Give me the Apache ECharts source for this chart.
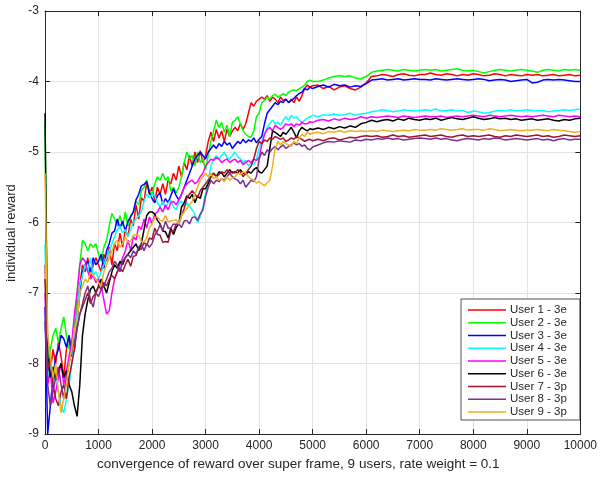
<!DOCTYPE html>
<html>
<head>
<meta charset="utf-8">
<script src="https://cdn.jsdelivr.net/npm/echarts@6/dist/echarts.min.js"></script>
<style>
html,body{margin:0;padding:0;background:#fff;}
#chart{width:600px;height:478px;}
</style>
</head>
<body>
<div id="chart"></div>
<script>
// sample positions: every 50 up to 5000, then every 100 up to 10000
const xs = [];
for (let x = 0; x <= 5000; x += 50) xs.push(x);
for (let x = 5100; x <= 10000; x += 100) xs.push(x);

const xTicks = [0,1000,2000,3000,4000,5000,6000,7000,8000,9000,10000];
const yTicks = [-9,-8,-7,-6,-5,-4,-3];

const seriesNames = ['User 1 - 3e','User 2 - 3e','User 3 - 3e','User 4 - 3e','User 5 - 3e','User 6 - 3e','User 7 - 3p','User 8 - 3p','User 9 - 3p'];
const seriesColors = ['#ff0000','#00ff00','#0000ff','#00ffff','#ff00ff','#000000','#a2142f','#7e2f8e','#edb120'];

const user1 = [-6.6,
-7.9,-8.1,-7.8,-8.0,-7.7,-7.9,-8.2,-7.8,-7.6,-7.9,
-7.5,-7.2,-6.9,-6.6,-6.7,-6.5,-6.8,-6.6,-6.5,-6.6,
-6.7,-6.45,-6.55,-6.35,-6.6,-6.3,-6.4,-6.15,-6.35,-6.1,
-6.2,-5.95,-6.05,-5.75,-5.95,-5.65,-5.7,-5.43,-5.6,-5.5,
-5.7,-5.5,-5.6,-5.45,-5.6,-5.4,-5.45,-5.3,-5.4,-5.2,
-5.35,-5.15,-5.25,-5.05,-5.2,-5.0,-5.15,-4.98,-5.15,-5.05,
-4.85,-4.72,-4.85,-4.68,-4.8,-4.7,-4.85,-4.68,-4.78,-4.7,
-4.65,-4.7,-4.6,-4.68,-4.6,-4.45,-4.3,-4.35,-4.28,-4.25,
-4.22,-4.25,-4.2,-4.28,-4.22,-4.25,-4.3,-4.22,-4.27,-4.25,
-4.3,-4.25,-4.3,-4.22,-4.28,-4.2,-4.1,-4.05,-4.08,-4.06,
-4.05,-4.1,-4.07,-4.12,-4.08,-4.06,-4.1,-4.12,-4.08,-4.02,
-3.93,-3.92,-3.9,-3.91,-3.93,-3.9,-3.89,-3.91,-3.92,-3.9,
-3.9,-3.88,-3.9,-3.91,-3.89,-3.9,-3.92,-3.9,-3.91,-3.89,
-3.9,-3.92,-3.91,-3.89,-3.9,-3.92,-3.9,-3.91,-3.92,-3.9,
-3.91,-3.9,-3.92,-3.91,-3.9,-3.92,-3.91,-3.9,-3.92,-3.91];

const user2 = [-4.6,
-8.0,-7.8,-7.6,-7.5,-7.7,-7.5,-7.34,-7.6,-7.8,-7.7,
-7.5,-7.0,-6.6,-6.25,-6.3,-6.4,-6.3,-6.35,-6.3,-6.45,
-6.55,-6.35,-6.25,-6.05,-5.87,-5.95,-6.05,-5.9,-6.05,-5.85,
-6.05,-5.9,-5.85,-5.7,-5.75,-5.55,-5.5,-5.4,-5.55,-5.6,
-5.45,-5.35,-5.4,-5.3,-5.4,-5.35,-5.55,-5.5,-5.58,-5.5,
-5.35,-5.15,-5.0,-5.1,-5.05,-5.2,-5.0,-5.15,-5.1,-5.25,
-5.05,-4.85,-4.7,-4.55,-4.65,-4.58,-4.72,-4.62,-4.78,-4.58,
-4.55,-4.5,-4.6,-4.7,-4.75,-4.78,-4.79,-4.7,-4.5,-4.45,
-4.3,-4.27,-4.22,-4.25,-4.2,-4.18,-4.22,-4.2,-4.17,-4.2,
-4.15,-4.13,-4.12,-4.13,-4.1,-4.08,-4.05,-4.0,-3.98,-4.0,
-4.0,-3.98,-3.95,-3.93,-3.92,-3.93,-3.92,-3.95,-3.96,-3.93,
-3.87,-3.85,-3.84,-3.83,-3.84,-3.85,-3.83,-3.84,-3.85,-3.84,
-3.83,-3.84,-3.83,-3.85,-3.84,-3.83,-3.82,-3.84,-3.85,-3.84,
-3.86,-3.88,-3.86,-3.84,-3.83,-3.84,-3.85,-3.84,-3.83,-3.84,
-3.85,-3.87,-3.84,-3.83,-3.84,-3.85,-3.83,-3.84,-3.83,-3.84];

const user3 = [-7.2,
-9.0,-8.6,-8.2,-7.9,-7.8,-7.6,-7.65,-7.77,-7.6,-7.9,
-7.8,-7.4,-7.0,-6.7,-6.6,-6.55,-6.7,-6.5,-6.6,-6.55,
-6.45,-6.65,-6.4,-6.3,-6.15,-6.12,-5.95,-6.08,-5.98,-6.12,
-5.98,-5.92,-5.85,-5.68,-5.6,-5.48,-5.46,-5.42,-5.58,-5.66,
-5.72,-5.62,-5.58,-5.74,-5.66,-5.72,-5.62,-5.52,-5.62,-5.68,
-5.6,-5.5,-5.4,-5.3,-5.2,-5.1,-5.05,-5.0,-5.05,-5.1,
-5.0,-4.95,-4.9,-4.95,-4.88,-4.92,-4.85,-4.9,-4.87,-4.95,
-4.9,-4.85,-4.88,-4.82,-4.87,-4.83,-4.85,-4.8,-4.87,-4.82,
-4.78,-4.6,-4.45,-4.4,-4.35,-4.3,-4.33,-4.28,-4.3,-4.25,
-4.3,-4.27,-4.24,-4.2,-4.17,-4.15,-4.1,-4.12,-4.08,-4.1,
-4.07,-4.05,-4.08,-4.04,-4.06,-4.05,-4.08,-4.06,-4.07,-4.03,
-3.98,-3.97,-3.96,-3.98,-3.97,-3.96,-3.98,-3.97,-3.96,-3.97,
-3.97,-3.98,-3.96,-3.97,-3.98,-3.97,-3.96,-3.97,-3.98,-3.97,
-3.96,-3.97,-3.99,-3.98,-3.97,-3.98,-4.0,-3.99,-3.98,-3.97,
-4.02,-4.01,-3.98,-3.97,-3.98,-3.97,-3.98,-3.99,-4.0,-4.0];

const user4 = [-6.3,
-8.2,-8.0,-8.3,-8.1,-8.4,-8.6,-8.7,-8.5,-8.3,-8.0,
-7.7,-7.3,-6.9,-6.75,-6.6,-6.7,-6.5,-6.75,-6.7,-6.8,
-6.7,-6.6,-6.5,-6.4,-6.3,-6.2,-6.1,-6.05,-6.15,-6.1,
-6.2,-6.1,-6.0,-5.95,-5.9,-5.85,-5.7,-5.6,-5.65,-5.6,
-5.62,-5.72,-5.78,-5.7,-5.8,-5.72,-5.68,-5.78,-5.82,-5.72,
-5.7,-5.78,-5.72,-5.77,-5.82,-5.88,-6.0,-5.92,-5.78,-5.58,
-5.4,-5.2,-5.1,-5.05,-5.1,-5.05,-5.0,-5.08,-5.1,-5.05,
-5.0,-5.07,-5.1,-5.15,-5.12,-5.2,-5.15,-5.18,-5.1,-4.95,
-4.85,-4.75,-4.65,-4.6,-4.55,-4.6,-4.58,-4.62,-4.55,-4.5,
-4.55,-4.48,-4.52,-4.5,-4.55,-4.58,-4.55,-4.52,-4.5,-4.48,
-4.5,-4.47,-4.48,-4.46,-4.48,-4.47,-4.45,-4.48,-4.46,-4.45,
-4.43,-4.42,-4.4,-4.41,-4.43,-4.42,-4.4,-4.41,-4.42,-4.41,
-4.4,-4.41,-4.39,-4.42,-4.41,-4.4,-4.42,-4.41,-4.44,-4.42,
-4.43,-4.45,-4.44,-4.42,-4.41,-4.42,-4.4,-4.42,-4.41,-4.4,
-4.41,-4.42,-4.41,-4.43,-4.42,-4.41,-4.4,-4.41,-4.4,-4.39];

const user5 = [-7.0,
-8.3,-8.1,-8.56,-8.4,-8.2,-8.0,-8.3,-8.1,-7.9,-7.7,
-7.3,-7.0,-6.6,-6.5,-6.55,-6.7,-6.8,-6.75,-6.85,-6.8,
-6.9,-7.1,-7.3,-7.25,-7.0,-6.8,-6.7,-6.6,-6.5,-6.4,
-6.25,-6.4,-6.2,-6.25,-6.05,-6.1,-5.95,-6.08,-5.92,-6.02,
-5.88,-5.85,-5.78,-5.85,-5.75,-5.82,-5.72,-5.7,-5.75,-5.68,
-5.6,-5.5,-5.45,-5.42,-5.4,-5.45,-5.42,-5.35,-5.3,-5.2,
-5.15,-5.1,-5.12,-5.08,-5.1,-5.15,-5.12,-5.1,-5.15,-5.12,
-5.1,-5.15,-5.12,-5.18,-5.15,-5.12,-5.15,-5.1,-5.12,-5.08,
-4.9,-4.75,-4.68,-4.65,-4.7,-4.62,-4.65,-4.68,-4.65,-4.6,
-4.62,-4.6,-4.64,-4.6,-4.62,-4.58,-4.6,-4.6,-4.57,-4.58,
-4.55,-4.54,-4.56,-4.53,-4.55,-4.52,-4.54,-4.53,-4.5,-4.52,
-4.5,-4.51,-4.5,-4.49,-4.5,-4.51,-4.49,-4.5,-4.51,-4.5,
-4.49,-4.5,-4.5,-4.49,-4.51,-4.5,-4.49,-4.5,-4.49,-4.48,
-4.49,-4.5,-4.48,-4.49,-4.5,-4.49,-4.48,-4.49,-4.5,-4.49,
-4.5,-4.49,-4.48,-4.49,-4.5,-4.48,-4.49,-4.5,-4.49,-4.5];

const user6 = [-4.45,
-7.9,-8.2,-8.05,-8.24,-8.1,-8.0,-8.2,-8.1,-8.3,-8.4,
-8.6,-8.75,-8.3,-7.6,-7.3,-7.1,-6.95,-6.9,-7.0,-6.9,
-6.8,-6.9,-7.0,-6.85,-6.7,-6.6,-6.65,-6.55,-6.6,-6.5,
-6.45,-6.4,-6.35,-6.3,-6.4,-6.3,-6.1,-5.9,-5.85,-5.85,
-5.88,-5.97,-6.02,-6.12,-6.13,-6.22,-6.08,-6.17,-6.07,-6.02,
-5.78,-5.72,-5.62,-5.66,-5.6,-5.72,-5.62,-5.66,-5.52,-5.52,
-5.45,-5.35,-5.3,-5.35,-5.28,-5.3,-5.35,-5.3,-5.25,-5.3,
-5.28,-5.3,-5.25,-5.3,-5.32,-5.28,-5.3,-5.25,-5.22,-5.28,
-5.3,-5.25,-5.2,-4.95,-4.7,-4.72,-4.75,-4.78,-4.72,-4.75,
-4.7,-4.65,-4.72,-4.8,-4.7,-4.65,-4.68,-4.7,-4.67,-4.68,
-4.66,-4.68,-4.65,-4.67,-4.64,-4.66,-4.63,-4.65,-4.6,-4.58,
-4.55,-4.57,-4.55,-4.54,-4.56,-4.53,-4.55,-4.52,-4.54,-4.55,
-4.53,-4.54,-4.52,-4.55,-4.53,-4.51,-4.53,-4.54,-4.52,-4.5,
-4.52,-4.54,-4.53,-4.51,-4.53,-4.52,-4.54,-4.53,-4.55,-4.54,
-4.53,-4.55,-4.54,-4.53,-4.55,-4.56,-4.54,-4.55,-4.53,-4.52];

const user7 = [-6.8,
-8.1,-7.9,-8.3,-8.5,-8.6,-8.4,-8.3,-8.5,-8.2,-8.0,
-7.8,-7.5,-7.3,-7.2,-7.1,-7.0,-7.15,-7.05,-7.0,-6.9,
-6.95,-6.85,-6.9,-6.8,-6.75,-6.8,-6.7,-6.65,-6.7,-6.6,
-6.52,-6.62,-6.48,-6.47,-6.36,-6.38,-6.28,-6.33,-6.22,-6.24,
-6.08,-6.17,-6.18,-6.28,-6.27,-6.28,-6.12,-6.13,-6.02,-6.03,
-5.9,-5.8,-5.65,-5.6,-5.55,-5.6,-5.65,-5.55,-5.5,-5.45,
-5.4,-5.35,-5.3,-5.35,-5.32,-5.28,-5.3,-5.25,-5.3,-5.28,
-5.3,-5.25,-5.28,-5.35,-5.3,-5.25,-5.2,-5.1,-4.95,-4.85,
-4.88,-4.83,-4.85,-4.8,-4.82,-4.78,-4.8,-4.82,-4.8,-4.85,
-4.83,-4.8,-4.82,-4.78,-4.8,-4.82,-4.85,-4.83,-4.82,-4.84,
-4.82,-4.84,-4.81,-4.8,-4.83,-4.81,-4.79,-4.8,-4.78,-4.77,
-4.78,-4.77,-4.79,-4.78,-4.76,-4.78,-4.77,-4.79,-4.78,-4.77,
-4.76,-4.78,-4.77,-4.76,-4.78,-4.79,-4.77,-4.76,-4.78,-4.77,
-4.78,-4.77,-4.76,-4.78,-4.79,-4.77,-4.78,-4.76,-4.77,-4.78,
-4.77,-4.76,-4.78,-4.77,-4.79,-4.78,-4.76,-4.77,-4.78,-4.77];

const user8 = [-7.4,
-8.3,-8.6,-8.4,-8.2,-8.05,-8.3,-8.5,-8.2,-8.0,-7.8,
-7.7,-7.5,-7.3,-7.15,-7.0,-6.9,-7.1,-7.2,-7.0,-7.05,
-6.95,-6.9,-6.8,-6.7,-6.65,-6.55,-6.6,-6.7,-6.55,-6.5,
-6.45,-6.5,-6.4,-6.45,-6.35,-6.3,-6.4,-6.3,-6.35,-6.3,
-6.18,-6.12,-6.03,-6.12,-5.98,-6.08,-6.08,-6.02,-6.03,-6.02,
-6.07,-5.98,-5.97,-6.02,-5.93,-5.92,-5.97,-5.88,-5.82,-5.63,
-5.5,-5.4,-5.45,-5.4,-5.42,-5.38,-5.4,-5.35,-5.3,-5.35,
-5.38,-5.4,-5.45,-5.4,-5.5,-5.45,-5.4,-5.42,-5.35,-5.1,
-5.0,-5.05,-4.97,-5.0,-4.95,-4.92,-4.97,-4.93,-4.9,-4.95,
-4.92,-4.9,-4.87,-4.9,-4.88,-4.92,-4.9,-4.95,-4.97,-4.93,
-4.9,-4.87,-4.85,-4.86,-4.84,-4.85,-4.86,-4.83,-4.84,-4.82,
-4.83,-4.81,-4.82,-4.8,-4.82,-4.81,-4.83,-4.82,-4.81,-4.8,
-4.81,-4.82,-4.8,-4.82,-4.81,-4.83,-4.84,-4.82,-4.81,-4.82,
-4.83,-4.81,-4.82,-4.8,-4.81,-4.83,-4.82,-4.81,-4.82,-4.83,
-4.82,-4.81,-4.83,-4.82,-4.84,-4.82,-4.81,-4.83,-4.82,-4.82];

const user9 = [-5.3,
-7.6,-7.9,-8.2,-8.0,-8.4,-8.7,-8.5,-8.3,-8.0,-7.8,
-7.5,-7.4,-7.0,-6.9,-6.8,-6.85,-6.7,-6.75,-6.8,-6.85,
-6.9,-6.7,-6.6,-6.5,-6.4,-6.3,-6.25,-6.35,-6.3,-6.2,
-6.28,-6.27,-6.18,-6.17,-6.18,-6.27,-6.28,-6.22,-6.08,-6.02,
-5.93,-5.92,-5.97,-5.98,-5.9,-5.99,-5.98,-5.97,-5.96,-6.02,
-5.9,-5.85,-5.8,-5.75,-5.7,-5.6,-5.5,-5.4,-5.35,-5.3,
-5.35,-5.3,-5.38,-5.35,-5.4,-5.38,-5.42,-5.35,-5.4,-5.37,
-5.35,-5.3,-5.32,-5.28,-5.3,-5.35,-5.38,-5.4,-5.44,-5.42,
-5.45,-5.48,-5.44,-5.4,-5.2,-4.95,-4.85,-4.9,-4.85,-4.88,
-4.9,-4.92,-4.85,-4.88,-4.8,-4.75,-4.78,-4.72,-4.75,-4.73,
-4.72,-4.74,-4.71,-4.72,-4.7,-4.72,-4.7,-4.71,-4.7,-4.71,
-4.7,-4.71,-4.69,-4.7,-4.71,-4.7,-4.69,-4.7,-4.68,-4.69,
-4.69,-4.68,-4.69,-4.67,-4.68,-4.69,-4.68,-4.67,-4.69,-4.68,
-4.68,-4.69,-4.67,-4.68,-4.7,-4.69,-4.68,-4.69,-4.7,-4.69,
-4.69,-4.68,-4.69,-4.7,-4.68,-4.69,-4.7,-4.71,-4.72,-4.71];

const allValues = [user1,user2,user3,user4,user5,user6,user7,user8,user9];

const chart = echarts.init(document.getElementById('chart'), null, {renderer:'canvas'});
const FONT = 'Liberation Sans, Arial, Helvetica, sans-serif';
const AX = '#262626';

const series = allValues.map((vals, i) => ({
  name: seriesNames[i],
  type: 'line',
  xAxisIndex: 0,
  yAxisIndex: 0,
  data: vals.map((v, j) => [xs[j], v]),
  symbol: 'none',
  showSymbol: false,
  lineStyle: {color: seriesColors[i], width: 1.5},
  itemStyle: {color: seriesColors[i]},
  animation: false
}));

const option = {
  animation: false,
  backgroundColor: '#ffffff',
  grid: {left: 45, right: 17, top: 11, bottom: 44, containLabel: false},
  xAxis: [{
    type: 'value', min: xTicks[0], max: xTicks[xTicks.length-1], interval: 1000, position: 'bottom',
    axisLine: {show: true, onZero: false, lineStyle: {color: AX, width: 1}},
    axisTick: {show: true, inside: true, length: 5, lineStyle: {color: AX}},
    axisLabel: {color: AX, fontSize: 12, fontFamily: FONT, margin: 6, formatter: v => String(v)},
    splitLine: {show: true, lineStyle: {color: '#e3e3e3', width: 1}}
  }, {
    type: 'value', min: xTicks[0], max: xTicks[xTicks.length-1], interval: 1000, position: 'top',
    axisLine: {show: true, onZero: false, lineStyle: {color: AX, width: 1}},
    axisTick: {show: true, inside: true, length: 5, lineStyle: {color: AX}},
    axisLabel: {show: false}, splitLine: {show: false}
  }],
  yAxis: [{
    type: 'value', min: yTicks[0], max: yTicks[yTicks.length-1], interval: 1, position: 'left',
    axisLine: {show: true, onZero: false, lineStyle: {color: AX, width: 1}},
    axisTick: {show: true, inside: true, length: 5, lineStyle: {color: AX}},
    axisLabel: {color: AX, fontSize: 12, fontFamily: FONT, margin: 6},
    splitLine: {show: true, lineStyle: {color: '#e3e3e3', width: 1}}
  }, {
    type: 'value', min: yTicks[0], max: yTicks[yTicks.length-1], interval: 1, position: 'right',
    axisLine: {show: true, onZero: false, lineStyle: {color: AX, width: 1}},
    axisTick: {show: true, inside: true, length: 5, lineStyle: {color: AX}},
    axisLabel: {show: false}, splitLine: {show: false}
  }],
  legend: {
    show: true,
    orient: 'vertical',
    left: 461, top: 299,
    padding: [5, 13, 2, 7],
    itemGap: 0.75,
    itemWidth: 38,
    itemHeight: 1.5,
    icon: 'path://M0,0 L38,0 L38,1.5 L0,1.5 Z',
    backgroundColor: '#ffffff',
    borderColor: AX,
    borderWidth: 0.8,
    textStyle: {color: AX, fontSize: 11.5, fontFamily: FONT, lineHeight: 12, padding: [0, 0, 0, -1]},
    data: seriesNames
  },
  graphic: [
    {type: 'text', left: 97, top: 457,
     style: {text: 'convergence of reward over super frame, 9 users, rate weight = 0.1', fill: AX, font: '13.5px ' + FONT}},
    {type: 'text', x: 5, y: 233, rotation: Math.PI/2, originX: 0, originY: 0,
     style: {text: 'individual reward', fill: AX, font: '13px ' + FONT, textAlign: 'center', textVerticalAlign: 'top'}}
  ],
  series: series
};
chart.setOption(option);
</script>
</body>
</html>
